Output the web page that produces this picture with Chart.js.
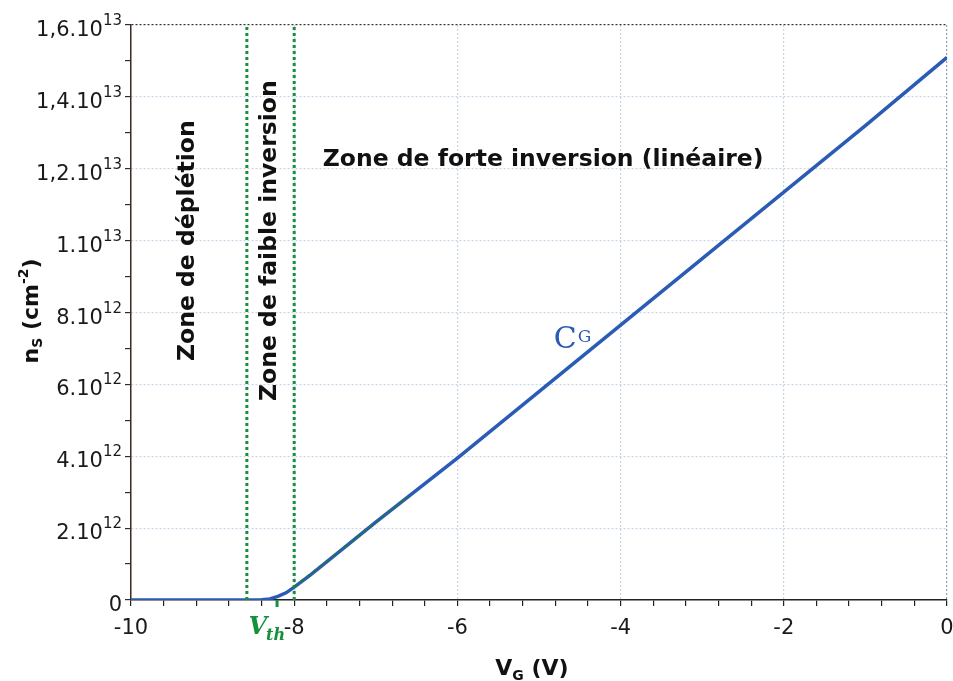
<!DOCTYPE html>
<html><head><meta charset="utf-8">
<script src="https://cdn.jsdelivr.net/npm/chart.js@4"></script>
<style>html,body{margin:0;padding:0;background:#fff}#wrap{width:953px;height:681px}</style>
</head><body><div id="wrap"><canvas id="c" width="953" height="681"></canvas></div>
<script>
// ---- data ----
const vgValues = [-10, -9, -8.6, -8.4, -8.3, -8.2, -8.1, -8.0, -7.8, -7.5, -7, -6, -5, -4, -3, -2, -1, 0];
const nsValues = [0, 0, 0, 0.005e12, 0.03e12, 0.1e12, 0.2e12, 0.36e12, 0.7e12, 1.25e12, 2.17e12, 3.95e12, 5.8e12, 7.65e12, 9.5e12, 11.35e12, 13.2e12, 15.1e12];
const tangentVg = [-8.0, -6.6];
const tangentNs = [0.36e12, 2.88e12];
const zoneBounds = [-8.58, -8.0];
const vthValue = -8.21;
const xTickValues = [-10, -8, -6, -4, -2, 0];
const yTickValues = [0, 2e12, 4e12, 6e12, 8e12, 1e13, 1.2e13, 1.4e13, 1.6e13];
const yTickMantissa = ['0', '2.10', '4.10', '6.10', '8.10', '1.10', '1,2.10', '1,4.10', '1,6.10'];
const yTickExponent = ['', '12', '12', '12', '12', '13', '13', '13', '13'];
const zoneLabels = ['Zone de déplétion', 'Zone de faible inversion', 'Zone de forte inversion (linéaire)'];

const FONT = "'DejaVu Sans', Verdana, sans-serif";
const GREEN = '#17903c';
const BLUE = '#2a5bb5';

const isMajorX = v => xTickValues.some(t => Math.abs(t - v) < 1e-6);
const isMajorY = v => yTickValues.some(t => Math.abs(t - v) < 1);

const textPlugin = {
  id: 'texts',
  afterDraw(chart) {
    const {ctx, scales: {x, y}, chartArea} = chart;
    ctx.save();
    // y tick labels with superscripts
    ctx.fillStyle = '#1a1a1a';
    ctx.textBaseline = 'alphabetic';
    yTickValues.forEach((v, i) => {
      const py = y.getPixelForValue(v);
      const right = chartArea.left - 9;
      ctx.font = '15px ' + FONT;
      const we = yTickExponent[i] ? ctx.measureText(yTickExponent[i]).width : 0;
      ctx.textAlign = 'right';
      if (we) ctx.fillText(yTickExponent[i], right, py);
      ctx.font = '21px ' + FONT;
      ctx.fillText(yTickMantissa[i], right - we, py + 11);
    });
    // Vth label and tick
    const vx = x.getPixelForValue(vthValue);
    ctx.strokeStyle = GREEN; ctx.lineWidth = 3;
    ctx.beginPath(); ctx.moveTo(vx, chartArea.bottom); ctx.lineTo(vx, chartArea.bottom + 7); ctx.stroke();
    ctx.fillStyle = GREEN;
    ctx.textAlign = 'left';
    ctx.font = "italic bold 24px 'DejaVu Serif', serif";
    const wV = ctx.measureText('V').width;
    ctx.font = "italic bold 16px 'DejaVu Serif', serif";
    const wth = ctx.measureText('th').width;
    const startX = vx + 7 - wV - wth;
    ctx.font = "italic bold 24px 'DejaVu Serif', serif";
    ctx.fillText('V', startX + 2, 634);
    ctx.font = "italic bold 16px 'DejaVu Serif', serif";
    ctx.fillText('th', startX + wV + 1, 640);
    // zone labels
    ctx.fillStyle = '#111';
    ctx.font = 'bold 23.5px ' + FONT;
    ctx.textAlign = 'center';
    ctx.textBaseline = 'middle';
    [[-9.30, 1.0e13, 0], [-8.30, 1.0e13, 1]].forEach(([vx2, vy2, k]) => {
      ctx.save();
      ctx.translate(x.getPixelForValue(vx2), y.getPixelForValue(vy2));
      ctx.rotate(-Math.PI / 2);
      ctx.fillText(zoneLabels[k], 0, 0);
      ctx.restore();
    });
    ctx.textAlign = 'left';
    ctx.fillText(zoneLabels[2], x.getPixelForValue(-7.65), y.getPixelForValue(1.224e13));
    // C_G curve label
    ctx.fillStyle = BLUE;
    ctx.textBaseline = 'alphabetic';
    ctx.font = "30px 'DejaVu Serif', serif";
    const cx = x.getPixelForValue(-4.82), cy = y.getPixelForValue(6.4e12) - 22;
    ctx.fillText('C', cx, cy);
    const wc = ctx.measureText('C').width;
    ctx.font = "17px 'DejaVu Serif', serif";
    ctx.fillText('G', cx + wc + 1, cy - 6);
    // x title
    ctx.fillStyle = '#111';
    ctx.font = 'bold 22px ' + FONT;
    const xc = (chartArea.left + chartArea.right) / 2 - 7;
    const w1 = ctx.measureText('V').width;
    ctx.font = 'bold 14px ' + FONT;
    const w2 = ctx.measureText('G').width;
    ctx.font = 'bold 22px ' + FONT;
    const w3 = ctx.measureText(' (V)').width;
    let sx = xc - (w1 + w2 + w3) / 2;
    ctx.fillText('V', sx, 675);
    ctx.font = 'bold 14px ' + FONT;
    ctx.fillText('G', sx + w1, 680);
    ctx.font = 'bold 22px ' + FONT;
    ctx.fillText(' (V)', sx + w1 + w2, 675);
    // y title
    ctx.save();
    ctx.translate(38, 311);
    ctx.rotate(-Math.PI / 2);
    ctx.font = 'bold 22px ' + FONT;
    const a1 = ctx.measureText('n').width;
    ctx.font = 'bold 14px ' + FONT;
    const a2 = ctx.measureText('S').width;
    ctx.font = 'bold 22px ' + FONT;
    const a3 = ctx.measureText(' (cm').width;
    ctx.font = 'bold 14px ' + FONT;
    const a4 = ctx.measureText('-2').width;
    ctx.font = 'bold 22px ' + FONT;
    const a5 = ctx.measureText(')').width;
    let s = -(a1 + a2 + a3 + a4 + a5) / 2;
    ctx.fillText('n', s, 0); s += a1;
    ctx.font = 'bold 14px ' + FONT; ctx.fillText('S', s, 4); s += a2;
    ctx.font = 'bold 22px ' + FONT; ctx.fillText(' (cm', s, 0); s += a3;
    ctx.font = 'bold 14px ' + FONT; ctx.fillText('-2', s, -10); s += a4;
    ctx.font = 'bold 22px ' + FONT; ctx.fillText(')', s, 0);
    ctx.restore();
    ctx.restore();
  }
};

const pts = (xs, ys) => xs.map((v, i) => ({x: v, y: ys[i]}));

new Chart(document.getElementById('c'), {
  type: 'line',
  data: {
    datasets: [
      {data: pts(vgValues, nsValues), borderColor: BLUE, borderWidth: 3.5, pointRadius: 0, tension: 0, order: 3},
      {data: pts(tangentVg, tangentNs), borderColor: '#1f7a3a', borderDash: [4, 4], borderWidth: 2, pointRadius: 0, order: 1},
      {data: pts([zoneBounds[0], zoneBounds[0]], [0, 1.6e13]), borderColor: GREEN, borderDash: [3, 3], borderWidth: 3, pointRadius: 0, order: 2},
      {data: pts([zoneBounds[1], zoneBounds[1]], [0, 1.6e13]), borderColor: GREEN, borderDash: [3, 3], borderWidth: 3, pointRadius: 0, order: 2}
    ]
  },
  options: {
    responsive: false,
    animation: false,
    layout: {padding: {left: 0, right: 6, top: 25, bottom: 0}},
    plugins: {legend: {display: false}, tooltip: {enabled: false}},
    scales: {
      x: {
        type: 'linear', min: -10, max: 0,
        ticks: {
          stepSize: 0.4, autoSkip: false, maxRotation: 0, padding: 10,
          font: {family: FONT, size: 21}, color: '#1a1a1a',
          callback: v => isMajorX(v) ? String(Math.round(v)) : ''
        },
        grid: {
          color: c => {
            const v = c.tick ? c.tick.value : null;
            if (v === null || !isMajorX(v)) return 'rgba(0,0,0,0)';
            if (Math.abs(v) < 1e-6) return '#8da0b6';
            return '#c9d6e3';
          },
          lineWidth: 1.2, tickColor: '#222', tickLength: 6, tickWidth: 1.2
        },
        border: {color: '#222', width: 1.5, dash: [2, 2]},
        afterFit: s => { s.height = 81; s.paddingLeft = 0; s.paddingRight = 0; }
      },
      y: {
        min: 0, max: 1.6e13,
        ticks: {stepSize: 1e12, autoSkip: false, color: 'rgba(0,0,0,0)', font: {size: 12}},
        grid: {
          color: c => {
            const v = c.tick ? c.tick.value : null;
            if (v === null || !isMajorY(v)) return 'rgba(0,0,0,0)';
            if (Math.abs(v - 1.6e13) < 1) return '#333';
            return '#c9d6e3';
          },
          lineWidth: 1.2, tickColor: '#3a2a22', tickLength: 6, tickWidth: 1.2
        },
        border: {color: '#3a2a22', width: 1.5, dash: [2, 2]},
        afterFit: s => { s.width = 131; s.paddingTop = 0; s.paddingBottom = 0; }
      }
    }
  },
  plugins: [textPlugin]
});
</script>
</body></html>
